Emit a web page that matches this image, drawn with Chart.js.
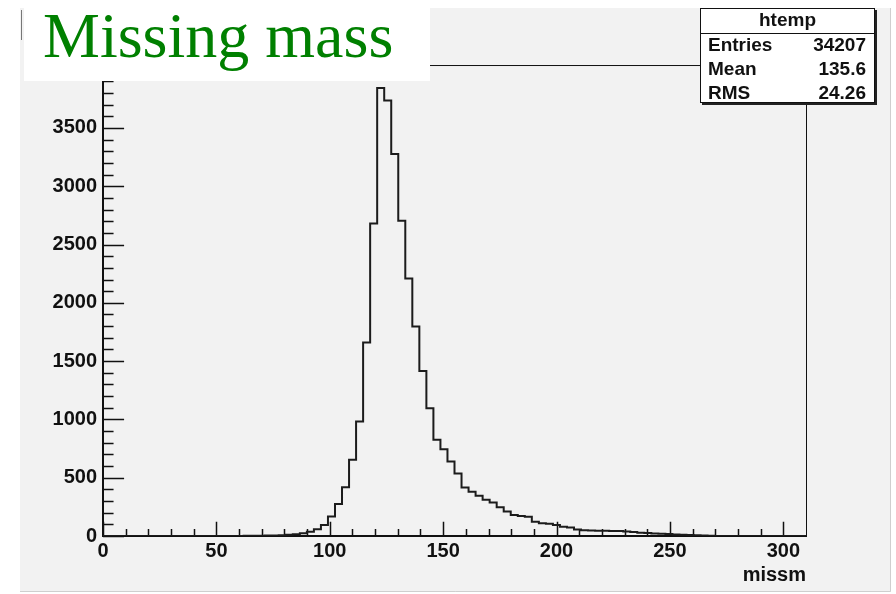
<!DOCTYPE html>
<html>
<head>
<meta charset="utf-8">
<script src="https://cdn.jsdelivr.net/npm/chart.js@4.4.1/dist/chart.umd.min.js"></script>
<style>
  html, body { margin: 0; padding: 0; background: #fff; }
  #wrap { width: 896px; height: 594px; }
</style>
</head>
<body>
<div id="wrap"><canvas id="c" width="896" height="594"></canvas></div>
<script>
// histogram "htemp": 100 bins over missm 0..310, counts
const xRange = [0, 310];
const counts = [
  0, 0, 0, 0, 0, 0, 0, 0, 0, 0,
  0, 0, 0, 0, 0, 0, 0, 0, 0, 1,
  2, 2, 3, 4, 5, 7, 10, 15, 23, 37,
  57, 94, 168, 275, 419, 653, 982, 1660, 2680, 3842,
  3736, 3277, 2705, 2209, 1798, 1415, 1096, 825, 745, 640,
  537, 417, 379, 345, 311, 288, 246, 211, 180, 172,
  166, 122, 110, 105, 94, 80, 72, 56, 50, 47,
  45, 44, 43, 42, 38, 35, 28, 25, 22, 20,
  18, 12, 10, 8, 6, 5, 3, 1, 0, 0,
  0, 0, 0, 0, 0, 0, 0, 0, 0, 0
];
const xTickLabels = [0, 50, 100, 150, 200, 250, 300];
const yTickLabels = [0, 500, 1000, 1500, 2000, 2500, 3000, 3500];
const yMax = 4040;

const statsTitle  = 'htemp';
const statsNames  = ['Entries', 'Mean', 'RMS'];
const statsValues = ['34207', '135.6', '24.26'];

// each point sits on a bin's upper edge; 'after' steps up at the lower edge
const binW = (xRange[1] - xRange[0]) / counts.length;
const points = counts.map((c, i) => ({ x: xRange[0] + (i + 1) * binW, y: c }));
points.unshift({ x: xRange[0], y: 0 });

// frame, inward ticks, title box and stats box (ROOT style)
const rootFrame = {
  id: 'rootFrame',
  beforeDraw(chart) {
    const { ctx, chartArea: a, scales: { x, y } } = chart;
    ctx.save();

    // canvas pad
    ctx.fillStyle = '#f2f2f2';
    ctx.fillRect(20, 8, 871, 584);
    ctx.strokeStyle = '#cfcfcf';
    ctx.lineWidth = 1;
    ctx.beginPath();
    ctx.moveTo(890.5, 8); ctx.lineTo(890.5, 591.5); ctx.lineTo(20, 591.5);
    ctx.stroke();
    ctx.strokeStyle = '#777';
    ctx.beginPath();
    ctx.moveTo(21.5, 10); ctx.lineTo(21.5, 40);
    ctx.stroke();

    // frame
    ctx.strokeStyle = '#111';
    ctx.lineWidth = 1;
    ctx.strokeRect(a.left + 0.5, a.top + 0.5, a.right - a.left, a.bottom - a.top);
    ctx.lineWidth = 2;
    ctx.beginPath();
    ctx.moveTo(a.left, a.top); ctx.lineTo(a.left, a.bottom); ctx.lineTo(a.right, a.bottom);
    ctx.stroke();

    // ticks: 3% of the other axis, minor half of it
    const xMaj = 0.03 * (a.bottom - a.top);
    const yMaj = 0.03 * (a.right - a.left);
    ctx.lineWidth = 1.5;
    ctx.beginPath();
    for (let v = 0; v <= 300; v += 10) {
      const px = Math.round(x.getPixelForValue(v)) + 0.5;
      const len = v % 50 === 0 ? xMaj : xMaj / 2;
      ctx.moveTo(px, a.bottom); ctx.lineTo(px, a.bottom - len);
    }
    for (let v = 0; v <= 4000; v += 100) {
      const py = Math.round(y.getPixelForValue(v)) + 0.5;
      const len = v % 500 === 0 ? yMaj : yMaj / 2;
      ctx.moveTo(a.left, py); ctx.lineTo(a.left + len, py);
    }
    ctx.stroke();

    // white box behind the title
    ctx.fillStyle = '#ffffff';
    ctx.fillRect(24, 8, 406, 73);

    // stats box
    const bx = 700, by = 8, bw = 175, bh = 95;
    ctx.fillStyle = '#222';
    ctx.fillRect(bx + 2, by + 2, bw, bh);
    ctx.fillStyle = '#ffffff';
    ctx.fillRect(bx, by, bw, bh);
    ctx.strokeStyle = '#111';
    ctx.lineWidth = 1;
    ctx.strokeRect(bx + 0.5, by + 0.5, bw - 1, bh - 1);
    ctx.beginPath();
    ctx.moveTo(bx, by + 25.5); ctx.lineTo(bx + bw, by + 25.5);
    ctx.stroke();

    ctx.fillStyle = '#111';
    ctx.font = 'bold 19px "Liberation Sans", Arial, sans-serif';
    ctx.textBaseline = 'middle';
    ctx.textAlign = 'center';
    ctx.fillText(statsTitle, bx + bw / 2, by + 13);
    statsNames.forEach((n, i) => {
      const ty = by + 38 + i * 24;
      ctx.textAlign = 'left';
      ctx.fillText(n, bx + 8, ty);
      ctx.textAlign = 'right';
      ctx.fillText(statsValues[i], bx + bw - 9, ty);
    });

    ctx.restore();
  }
};

const axisFont = { family: '"Liberation Sans", Arial, sans-serif', size: 20, weight: 'bold' };

new Chart(document.getElementById('c'), {
  type: 'line',
  data: {
    datasets: [{
      data: points,
      stepped: 'after',
      borderColor: '#1c1c1c',
      borderWidth: 2,
      pointRadius: 0,
      fill: false,
    }]
  },
  options: {
    responsive: false,
    animation: false,
    layout: { padding: { left: 43, right: 90, top: 0, bottom: 0 } },
    plugins: {
      legend: { display: false },
      tooltip: { enabled: false },
      title: {
        display: true,
        text: 'Missing mass',
        align: 'start',
        color: '#008000',
        font: { family: '"Liberation Serif", "Times New Roman", serif', size: 64, weight: 'normal', lineHeight: 0.78 },
        padding: { top: 14.8, bottom: 0.3 },
      },
    },
    scales: {
      x: {
        type: 'linear',
        min: xRange[0],
        max: xRange[1],
        grid: { display: false, drawTicks: false },
        border: { display: false },
        afterBuildTicks: s => { s.ticks = xTickLabels.map(v => ({ value: v })); },
        afterFit: s => { s.height = 58; },
        ticks: { color: '#111', padding: 3, maxRotation: 0, font: axisFont, callback: v => String(v) },
        title: {
          display: true,
          text: 'missm',
          align: 'end',
          color: '#111',
          padding: { top: 0, bottom: 7 },
          font: axisFont,
        },
      },
      y: {
        min: 0,
        max: yMax,
        grid: { display: false, drawTicks: false },
        border: { display: false },
        afterBuildTicks: s => { s.ticks = yTickLabels.map(v => ({ value: v })); },
        afterFit: s => { s.width = 60; },
        ticks: { color: '#111', padding: 6, font: axisFont, callback: v => String(v) },
      },
    },
  },
  plugins: [rootFrame],
});
</script>
</body>
</html>
